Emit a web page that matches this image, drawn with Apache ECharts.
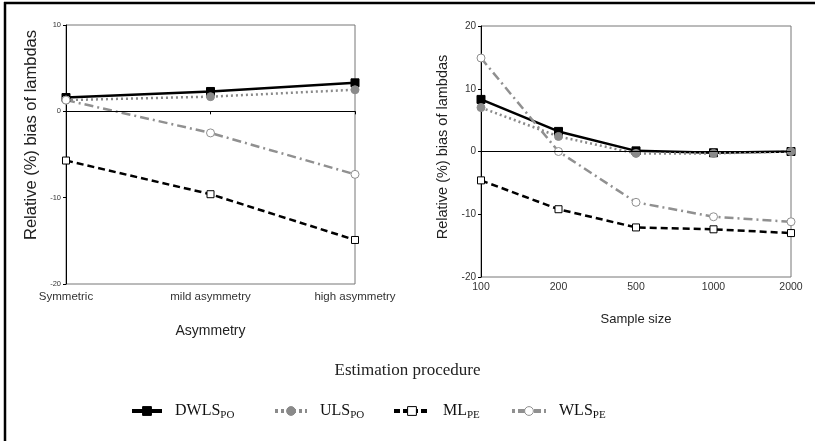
<!DOCTYPE html>
<html lang="en">
<head>
    <meta charset="UTF-8">
    <title>Relative bias of lambdas</title>
    <script src="https://cdn.jsdelivr.net/npm/echarts@6/dist/echarts.min.js"></script>
    <style>
        body { margin: 0; background: #fff; }
        #main { width: 815px; height: 441px; }
    </style>
</head>
<body>
<div id="main"></div>
<script>
    // left panel: asymmetry
    var asymCats = ['Symmetric', 'mild asymmetry', 'high asymmetry'];
    var asymDWLS = [1.6, 2.3, 3.3];
    var asymULS = [1.3, 1.7, 2.5];
    var asymML = [-5.7, -9.6, -14.9];
    var asymWLS = [1.3, -2.5, -7.3];

    // right panel: sample size
    var sizeCats = ['100', '200', '500', '1000', '2000'];
    var sizeDWLS = [8.3, 3.2, 0.1, -0.2, 0];
    var sizeULS = [7.0, 2.4, -0.3, -0.3, 0];
    var sizeML = [-4.6, -9.2, -12.1, -12.4, -13.0];
    var sizeWLS = [14.9, 0, -8.1, -10.4, -11.2];

    var names = ['DWLS', 'ULS', 'ML', 'WLS'];
    var subs = {DWLS: 'PO', ULS: 'PO', ML: 'PE', WLS: 'PE'};

    var styles = {
        DWLS: {symbol: 'rect', symbolSize: 8, line: {color: '#000', width: 2.5, type: 'solid'},
               item: {color: '#000', borderColor: '#000', borderWidth: 1}},
        ULS: {symbol: 'circle', symbolSize: 8, line: {color: '#8a8a8a', width: 2.5, type: [2, 3]},
              item: {color: '#8a8a8a', borderColor: '#8a8a8a', borderWidth: 1}},
        ML: {symbol: 'rect', symbolSize: 7, line: {color: '#000', width: 2.5, type: [7, 4]},
             item: {color: '#fff', borderColor: '#000', borderWidth: 1}},
        WLS: {symbol: 'circle', symbolSize: 8, line: {color: '#909090', width: 2.5, type: [9, 4, 2, 4]},
              item: {color: '#fff', borderColor: '#909090', borderWidth: 1}}
    };
    // dash patterns used in the legend keys (shorter keys)
    var legendDash = {DWLS: 'solid', ULS: [3, 3], ML: [6, 3], WLS: [3, 3, 7, 3]};

    function makeSeries(name, data, idx) {
        var s = styles[name];
        var obj = {
            name: name,
            type: 'line',
            xAxisIndex: idx,
            yAxisIndex: idx,
            data: data,
            symbol: s.symbol,
            symbolSize: s.symbolSize,
            showAllSymbol: true,
            lineStyle: s.line,
            itemStyle: s.item,
            z: 3
        };
        if (name === 'DWLS') {
            obj.markLine = {
                silent: true,
                symbol: 'none',
                label: {show: false},
                lineStyle: {color: '#000', width: 1, type: 'solid'},
                data: [{yAxis: 0}]
            };
        }
        return obj;
    }

    var axisText = {color: '#333', fontFamily: 'Liberation Sans, Arial'};
    var legendPos = [125, 268, 387, 505];
    var legendKeyW = [30, 32, 36, 34];

    var legends = names.map(function (n, i) {
        var s = styles[n];
        return {
            data: [n],
            left: legendPos[i],
            top: 398,
            itemWidth: legendKeyW[i],
            itemHeight: 11,
            itemGap: 0,
            selectedMode: false,
            lineStyle: {width: 4, type: legendDash[n], color: s.line.color},
            itemStyle: s.item,
            formatter: function (name) {
                return '{a|' + name + '}{b|' + subs[name] + '}';
            },
            textStyle: {
                padding: [0, 0, 0, 8],
                rich: {
                    a: {fontSize: 16, fontFamily: 'Liberation Serif, Times New Roman', color: '#111'},
                    b: {fontSize: 11, fontFamily: 'Liberation Serif, Times New Roman', color: '#111',
                        padding: [9, 0, 0, 0]}
                }
            }
        };
    });

    var yName = 'Relative (%) bias of lambdas';

    var option = {
        backgroundColor: '#fff',
        animation: false,
        title: {
            text: 'Estimation procedure',
            left: 'center',
            top: 357,
            textStyle: {fontFamily: 'Liberation Serif, Times New Roman', fontSize: 17, fontWeight: 'normal', color: '#222'}
        },
        legend: legends,
        grid: [
            {left: 66, top: 25, width: 289, height: 259, show: true, borderColor: '#777', borderWidth: 1},
            {left: 481, top: 26, width: 310, height: 251, show: true, borderColor: '#777', borderWidth: 1}
        ],
        xAxis: [
            {
                type: 'category', gridIndex: 0, data: asymCats, boundaryGap: false,
                name: 'Asymmetry', nameLocation: 'middle', nameGap: 40,
                nameTextStyle: {fontSize: 14, color: '#222', fontFamily: 'Liberation Sans, Arial'},
                axisLine: {lineStyle: {color: '#000', width: 1}},
                axisTick: {length: 3, lineStyle: {color: '#000'}},
                axisLabel: Object.assign({fontSize: 11.5, margin: 7}, axisText)
            },
            {
                type: 'category', gridIndex: 1, data: sizeCats, boundaryGap: false,
                name: 'Sample size', nameLocation: 'middle', nameGap: 36,
                nameTextStyle: {fontSize: 13, color: '#222', fontFamily: 'Liberation Sans, Arial'},
                axisLine: {lineStyle: {color: '#000', width: 1}},
                axisTick: {length: 3, lineStyle: {color: '#000'}},
                axisLabel: Object.assign({fontSize: 10.5, margin: 5}, axisText)
            }
        ],
        yAxis: [
            {
                type: 'value', gridIndex: 0, min: -20, max: 10, interval: 10,
                name: yName, nameLocation: 'middle', nameGap: 26,
                nameTextStyle: {fontSize: 16.5, color: '#222', fontFamily: 'Liberation Sans, Arial',
                                padding: [0, 0, 0, 39]},
                axisLine: {show: true, lineStyle: {color: '#000', width: 1}},
                axisTick: {show: true, length: 3, lineStyle: {color: '#000'}},
                splitLine: {show: false},
                axisLabel: Object.assign({fontSize: 7.5, margin: 5}, axisText)
            },
            {
                type: 'value', gridIndex: 1, min: -20, max: 20, interval: 10,
                name: yName, nameLocation: 'middle', nameGap: 31,
                nameTextStyle: {fontSize: 14.5, color: '#222', fontFamily: 'Liberation Sans, Arial',
                                padding: [0, 0, 0, 9]},
                axisLine: {show: true, lineStyle: {color: '#000', width: 1}},
                axisTick: {show: true, length: 3, lineStyle: {color: '#000'}},
                splitLine: {show: false},
                axisLabel: Object.assign({fontSize: 10, margin: 5}, axisText)
            }
        ],
        graphic: [
            {type: 'line', shape: {x1: 4, y1: 3, x2: 815, y2: 3}, style: {stroke: '#000', lineWidth: 2.5}},
            {type: 'line', shape: {x1: 5, y1: 2, x2: 5, y2: 441}, style: {stroke: '#000', lineWidth: 2.5}}
        ],
        series: [
            makeSeries('DWLS', asymDWLS, 0),
            makeSeries('ULS', asymULS, 0),
            makeSeries('ML', asymML, 0),
            makeSeries('WLS', asymWLS, 0),
            makeSeries('DWLS', sizeDWLS, 1),
            makeSeries('ULS', sizeULS, 1),
            makeSeries('ML', sizeML, 1),
            makeSeries('WLS', sizeWLS, 1)
        ]
    };

    var myChart = echarts.init(document.getElementById('main'));
    myChart.setOption(option);
</script>
</body>
</html>
